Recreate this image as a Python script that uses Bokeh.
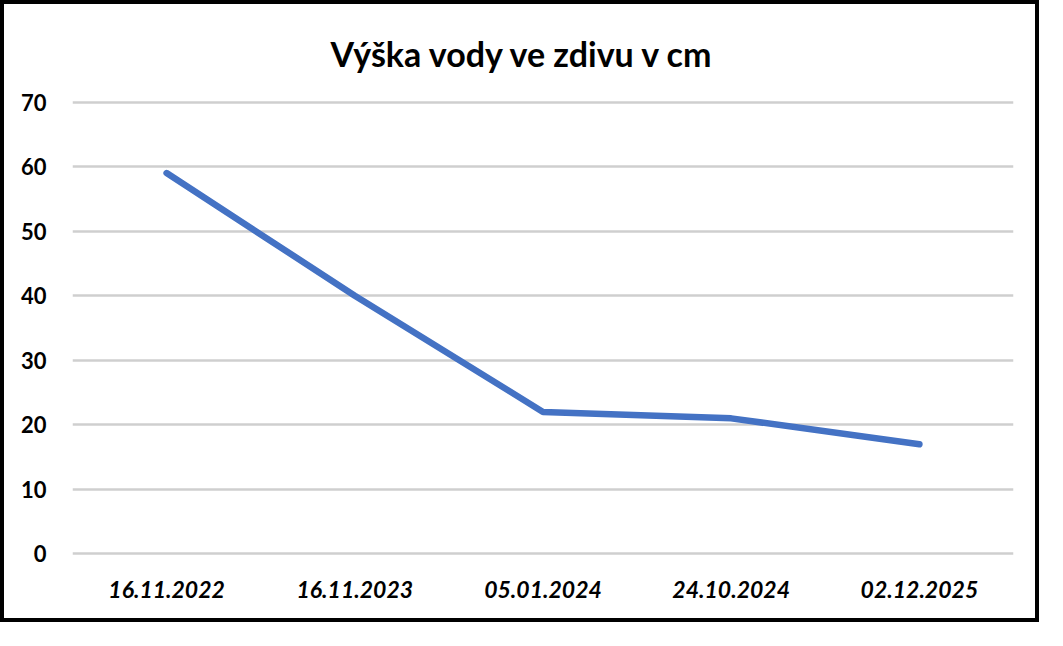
from bokeh.plotting import figure
from bokeh.embed import file_html
from bokeh.resources import INLINE
from bokeh.models import FixedTicker, Range1d

title_text = "Výška vody ve zdivu v cm"
dates = ["16.11.2022", "16.11.2023", "05.01.2024", "24.10.2024", "02.12.2025"]
values = [59, 40, 22, 21, 17]
y_ticks = [0, 10, 20, 30, 40, 50, 60, 70]

FONT = "Lato"

p = figure(
    x_range=dates,
    y_range=Range1d(-0.4, 70.4),
    width=1039,
    height=622,
    output_backend="svg",
    toolbar_location=None,
    min_border_left=68,
    min_border_right=30,
    min_border_top=94,
    min_border_bottom=70,
    title=title_text,
)
p.styles = {"border": "4px solid black"}

p.title.align = "left"
p.title.offset = 258
p.title.text_font = FONT
p.title.text_font_style = "bold"
p.title.text_font_size = "34px"
p.title.text_color = "black"
p.title.standoff = 52

p.outline_line_color = None
p.background_fill_color = "white"
p.border_fill_color = "white"

p.line(x=dates, y=values, line_color="#4472C4", line_width=6.5, line_cap="round", line_join="round")

p.yaxis.ticker = FixedTicker(ticks=y_ticks)
for ax in (p.xaxis[0], p.yaxis[0]):
    ax.axis_line_color = None
    ax.major_tick_line_color = None
    ax.minor_tick_line_color = None
    ax.major_label_text_font = FONT
    ax.major_label_text_font_style = "bold"
    ax.major_label_text_color = "black"
p.yaxis.major_label_text_font_size = "22px"
p.yaxis.major_label_standoff = 20
p.xaxis.major_label_text_font_size = "23px"
p.xaxis.major_label_text_font_style = "bold italic"
p.xaxis.major_label_standoff = 18

p.xgrid.grid_line_color = None
p.ygrid.grid_line_color = "#cfcfcf"
p.ygrid.grid_line_width = 2.5

open("out.html", "w").write(file_html(p, INLINE))
